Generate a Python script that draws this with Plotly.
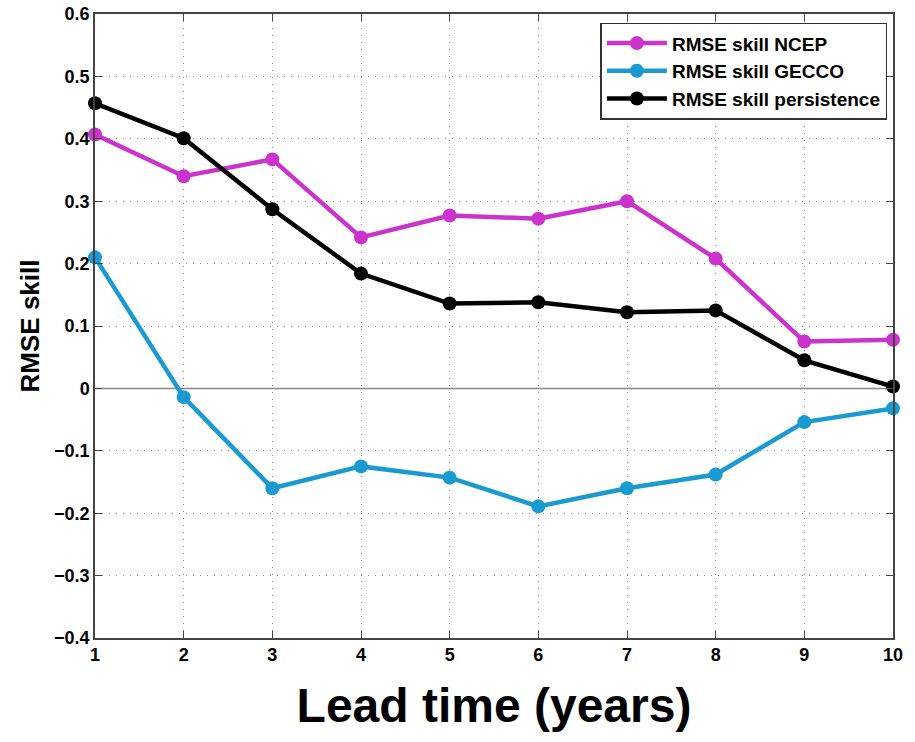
import plotly.graph_objects as go

lead = [1, 2, 3, 4, 5, 6, 7, 8, 9, 10]
ncep = [0.407, 0.340, 0.367, 0.242, 0.277, 0.272, 0.300, 0.208, 0.075, 0.078]
gecco = [0.210, -0.014, -0.160, -0.125, -0.143, -0.189, -0.160, -0.138, -0.054, -0.032]
persistence = [0.457, 0.401, 0.287, 0.184, 0.136, 0.138, 0.122, 0.125, 0.045, 0.003]

y_ticks = [-0.4, -0.3, -0.2, -0.1, 0, 0.1, 0.2, 0.3, 0.4, 0.5, 0.6]
y_labels = ["\u22120.4", "\u22120.3", "\u22120.2", "\u22120.1", "0", "0.1", "0.2", "0.3", "0.4", "0.5", "0.6"]
x_labels = ["1", "2", "3", "4", "5", "6", "7", "8", "9", "10"]

names = ["RMSE skill NCEP", "RMSE skill GECCO", "RMSE skill persistence"]
colors = ["#CC33CC", "#1A9AD0", "#000000"]
series = [ncep, gecco, persistence]

fig = go.Figure()
for name, col, ys in zip(names, colors, series):
    fig.add_trace(go.Scatter(
        x=lead, y=ys, name=name, mode="lines+markers",
        line=dict(color=col, width=4.5),
        marker=dict(color=col, size=14, symbol="circle"),
        cliponaxis=False,
    ))

fig.add_hline(y=0, line=dict(color="#888888", width=1.5), layer="below")

font = "Liberation Sans, Arial, sans-serif"
fig.update_layout(
    width=915, height=742,
    margin=dict(l=95, r=22, t=14, b=104),
    plot_bgcolor="white", paper_bgcolor="white",
    font=dict(family=font, color="black"),
    showlegend=True,
    legend=dict(
        x=0.993, y=0.986, xanchor="right", yanchor="top",
        bgcolor="white", bordercolor="#333333", borderwidth=1.5,
        font=dict(size=19, family=font, weight="bold"),
        tracegroupgap=0, itemwidth=60,
    ),
    xaxis=dict(
        range=[1, 10], tickvals=lead, ticktext=x_labels, ticks="inside", ticklen=7,
        showline=True, linecolor="#444444", linewidth=1.5, mirror="ticks",
        showgrid=True, gridcolor="#888888", griddash="1px,6px", gridwidth=1,
        zeroline=False, automargin=False,
        tickfont=dict(size=18, family=font, weight="bold"),
        title=dict(text="Lead time (years)", font=dict(size=48, family=font, weight="bold"), standoff=24),
    ),
    yaxis=dict(
        range=[-0.4, 0.6], tickvals=y_ticks, ticktext=y_labels, ticks="inside", ticklen=7,
        showline=True, linecolor="#444444", linewidth=1.5, mirror="ticks",
        showgrid=True, gridcolor="#888888", griddash="1px,6px", gridwidth=1,
        zeroline=False, automargin=False,
        tickfont=dict(size=18, family=font, weight="bold"),
        title=dict(text="RMSE skill", font=dict(size=26, family=font, weight="bold"), standoff=7),
    ),
)

fig.write_html("out.html", config={"displayModeBar": False},
               post_script="document.body.style.margin='0';")
